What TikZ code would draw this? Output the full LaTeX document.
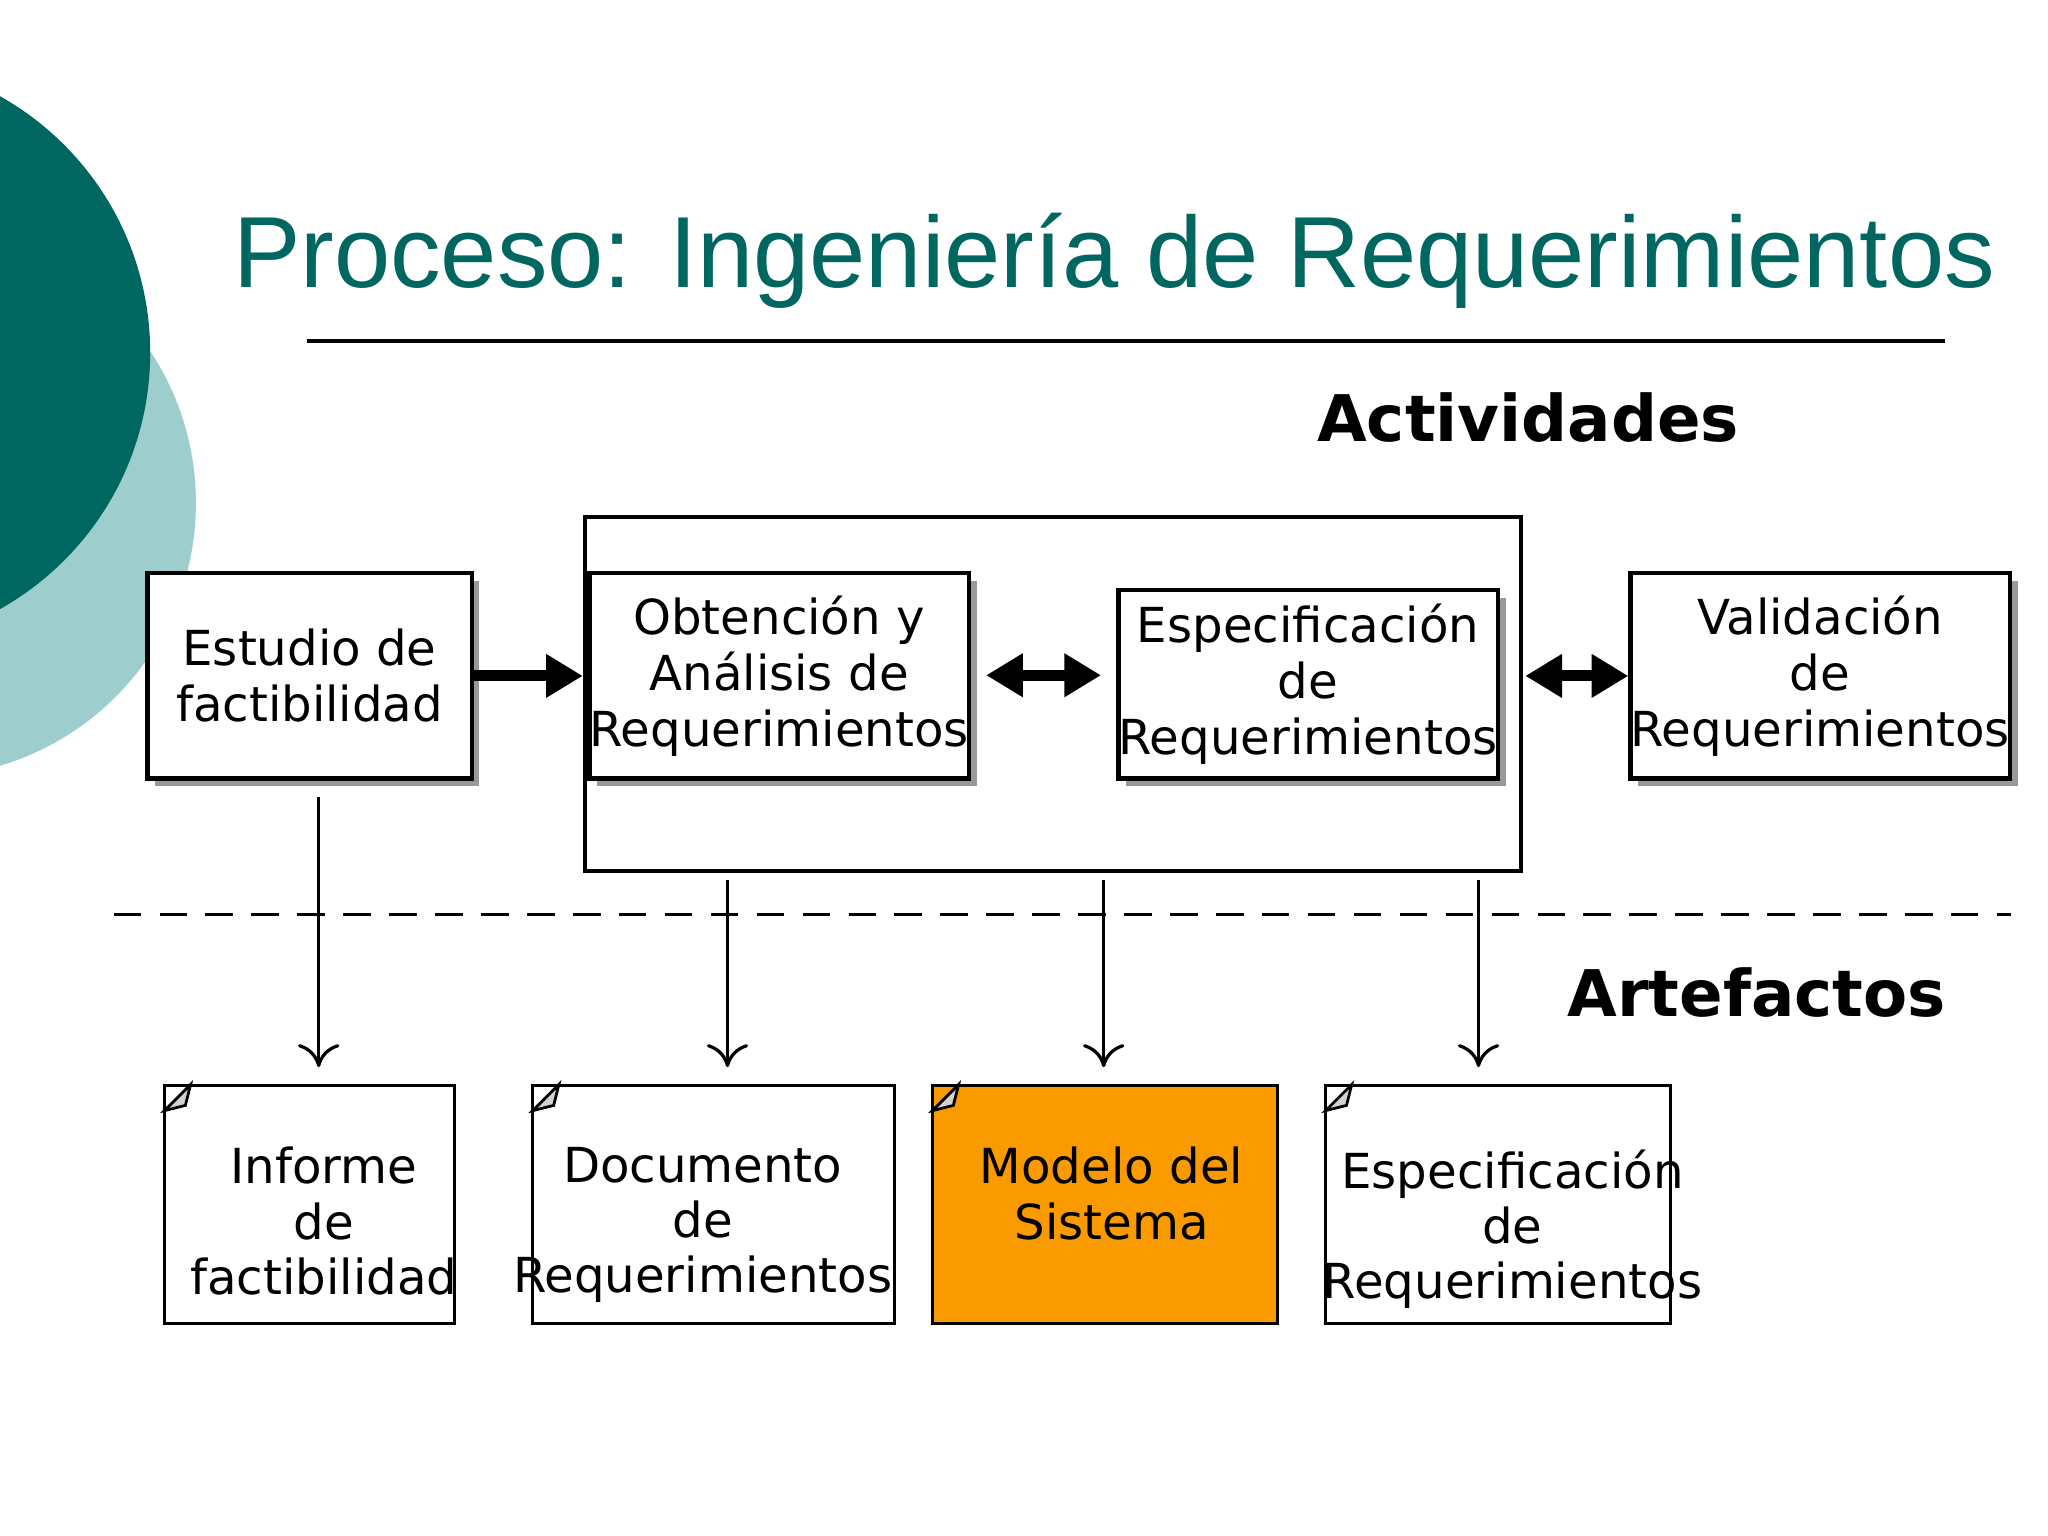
\documentclass[tikz,border=0pt]{standalone}
\usepackage{fontspec}
\setmainfont{DejaVu Sans}
\newfontfamily\titlefont{Liberation Sans}
\usetikzlibrary{shadows,arrows.meta,shapes.misc}
\definecolor{teal1}{HTML}{006660}
\definecolor{teal2}{HTML}{9DCDCD}
\definecolor{orng}{HTML}{F99A00}
\begin{document}
\begin{tikzpicture}[x=0.01cm,y=-0.01cm,
  box/.style={draw=black,fill=white,line width=0.9pt,align=center,font=\fontsize{10.5}{12.2}\selectfont,
    drop shadow={shadow xshift=0.06cm,shadow yshift=-0.06cm,opacity=1,fill=gray!80},inner sep=0pt},
  doc/.style={draw=black,line width=0.7pt,chamfered rectangle,chamfered rectangle corners=north west,
    chamfered rectangle xsep=0.2cm,chamfered rectangle ysep=0.2cm,inner sep=0pt},
  doctext/.style={anchor=north,align=center,font=\fontsize{10.5}{12}\selectfont},
  thick arr/.style={line width=2.4pt,-{Triangle[length=8pt,width=9pt]}},
  dbl arr/.style={line width=2.4pt,{Triangle[length=8pt,width=9pt]}-{Triangle[length=8pt,width=9pt]}},
  thin arr/.style={line width=0.7pt,-{To[length=5pt,width=9pt]}}]
\useasboundingbox (0,0) rectangle (1568,1176);
\fill[white] (0,0) rectangle (1568,1176);
\begin{scope}
\clip (0,0) rectangle (1568,1176);
\fill[teal2] (-60,385) circle (210);
\fill[teal1] (-110,270) circle (225);
\end{scope}
\node[font=\titlefont\fontsize{22}{26}\selectfont,text=teal1] (title) at (853,200) {Proceso: Ingeniería de Requerimientos};
\coordinate (tl) at (235,261); \coordinate (tr) at (1489,261);
\draw[line width=0.9pt] (tl) -- (tr);
\node[font=\bfseries\fontsize{14}{16}\selectfont] (act) at (1170,320) {Actividades};
\node[font=\bfseries\fontsize{14}{16}\selectfont] (art) at (1345,760) {Artefactos};
\node[draw,line width=0.9pt,minimum width=7.16cm,minimum height=2.71cm] (outer) at (806,531.5) {};
\node[box,minimum width=2.48cm,minimum height=1.57cm] (est) at (237,517.5) {Estudio de\\factibilidad};
\node[box,minimum width=2.61cm,minimum height=1.57cm] (obt) at (596.5,517.5) {Obtención y\\Análisis de\\Requerimientos};
\node[box,minimum width=2.87cm,minimum height=1.44cm] (esp) at (1001.5,524) {Especificación\\de\\Requerimientos};
\node[box,minimum width=2.61cm,minimum height=1.57cm] (val) at (1393.5,517.5) {Validación\\de\\Requerimientos};
\draw[thick arr] (est.east) -- (outer.west |- est.east);
\coordinate (d1a) at (755,517); \coordinate (d1b) at (843,517);
\draw[dbl arr] (d1a) -- (d1b);
\draw[dbl arr] (outer.east |- val.west) ++(2,0) -- (val.west);
\coordinate (dl) at (87,700); \coordinate (dr) at (1540,700);
\draw[dashed,line width=0.7pt,dash pattern=on 6pt off 4pt] (dl) -- (dr);
% documents
\node[doc,fill=white,minimum width=2.22cm,minimum height=1.82cm] (inf) at (237,922) {};
\node[doc,fill=white,minimum width=2.77cm,minimum height=1.82cm] (dre) at (546.5,922) {};
\node[doc,fill=orng,minimum width=2.64cm,minimum height=1.82cm] (mod) at (846,922) {};
\node[doc,fill=white,minimum width=2.64cm,minimum height=1.82cm] (ers) at (1147,922) {};
\foreach \d in {inf,dre,mod,ers}{
  \fill[gray!35,draw=black,line width=0.6pt] (\d.north west) ++(0,20) -- ++(20,-20) -- ++(-4,16) -- cycle;
}
\node[doctext] (tinf) at (248,866) {Informe\\de\\factibilidad};
\node[doctext] (tdre) at (538,866) {Documento\\de\\Requerimientos};
\node[doctext] (tmod) at (851,866) {Modelo del\\Sistema};
\node[doctext] (ters) at (1158,868) {Especificación\\de\\Requerimientos};
\coordinate (a1) at (244,610); \coordinate (a2) at (557,674);
\coordinate (a3) at (845,674); \coordinate (a4) at (1132,674);
\draw[thin arr] (a1) -- (244,817);
\draw[thin arr] (a2) -- (557,817);
\draw[thin arr] (a3) -- (845,817);
\draw[thin arr] (a4) -- (1132,817);
\end{tikzpicture}
\end{document}
